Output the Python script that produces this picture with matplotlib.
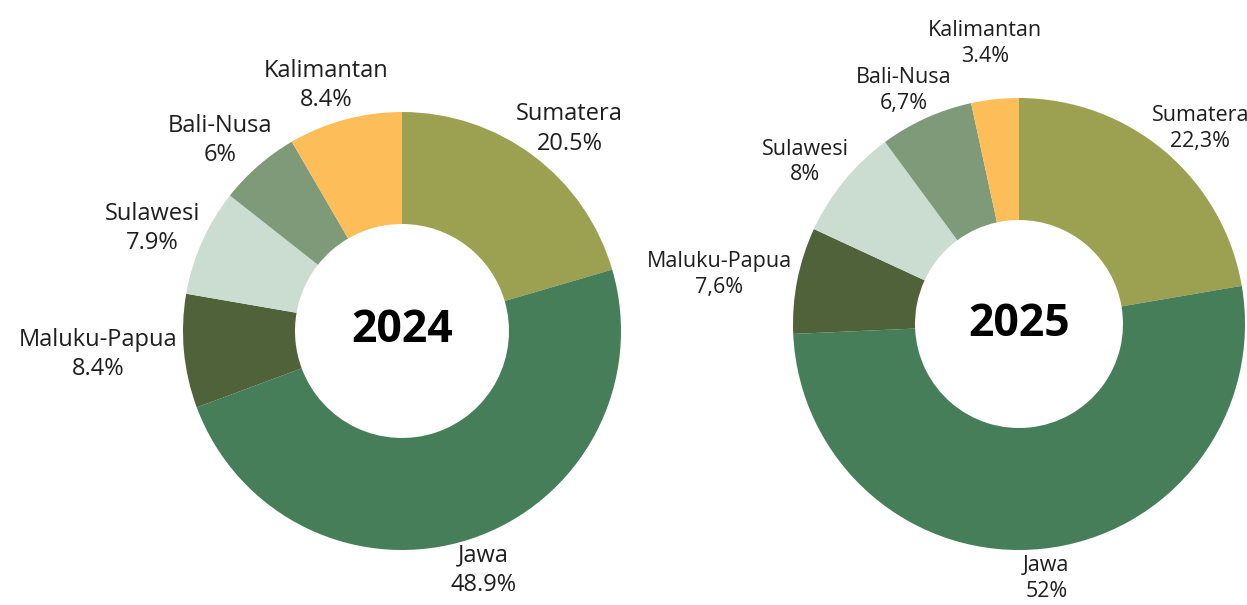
import math
import matplotlib
matplotlib.use("Agg")
from matplotlib import pyplot as plt

plt.rcParams['font.family'] = ['Open Sans', 'DejaVu Sans']

regions = ["Sumatera", "Jawa", "Maluku-Papua", "Sulawesi", "Bali-Nusa", "Kalimantan"]
colors = ["#9CA152", "#457E59", "#50623A", "#CBDDD1", "#7E9A78", "#FDBE5A"]

values_2024 = [20.5, 48.9, 8.4, 7.9, 6.0, 8.4]
pct_2024 = ["20.5%", "48.9%", "8.4%", "7.9%", "6%", "8.4%"]

values_2025 = [22.3, 52.0, 7.6, 8.0, 6.7, 3.4]
pct_2025 = ["22,3%", "52%", "7,6%", "8%", "6,7%", "3.4%"]

W, H = 1247, 605
fig = plt.figure(figsize=(W / 100, H / 100), dpi=100)
ax = fig.add_axes([0, 0, 1, 1])


def donut(values, pcts, year, cx, cy, r, width, fs):
    cy = H - cy
    wedges, _ = ax.pie(values, colors=colors, startangle=90, counterclock=False,
                       center=(cx, cy), radius=r,
                       wedgeprops=dict(width=width, linewidth=0))
    ax.text(cx, cy, year, ha="center", va="center", fontsize=32,
            fontweight="bold", color="black")
    labels = []
    for w, name, p in zip(wedges, regions, pcts):
        ang = math.radians((w.theta1 + w.theta2) / 2)
        t = ax.text(cx, cy, name + "\n" + p, ha="center", va="center",
                    fontsize=fs, color="#1e1e1e", linespacing=1.3)
        labels.append((t, ang))
    return labels, (cx, cy, r)


all_labels = []
all_labels.append(donut(values_2024, pct_2024, "2024", 402, 331, 219, 112, 17))
all_labels.append(donut(values_2025, pct_2025, "2025", 1019, 324, 226, 122, 15.5))

ax.set_xlim(0, W)
ax.set_ylim(0, H)
ax.set_aspect("equal")
ax.axis("off")


def overlaps(a, b):
    return a[0] < b[2] and b[0] < a[2] and a[1] < b[3] and b[1] < a[3]


# push every label just outside its wedge, and further out if it hits another
fig.canvas.draw()
renderer = fig.canvas.get_renderer()
for labels, (cx, cy, r) in all_labels:
    placed = []
    for t, ang in labels:
        bb = t.get_window_extent(renderer)
        w, h = bb.width, bb.height
        d = r * 1.03
        while True:
            x = cx + d * math.cos(ang) + w / 2 * math.cos(ang)
            y = cy + d * math.sin(ang) + h / 2 * math.sin(ang)
            box = (x - w / 2, y - h / 2, x + w / 2, y + h / 2)
            if not any(overlaps(box, b) for b in placed):
                break
            d += 2
        placed.append(box)
        t.set_position((x, y))

fig.savefig("out.png", dpi=100)
